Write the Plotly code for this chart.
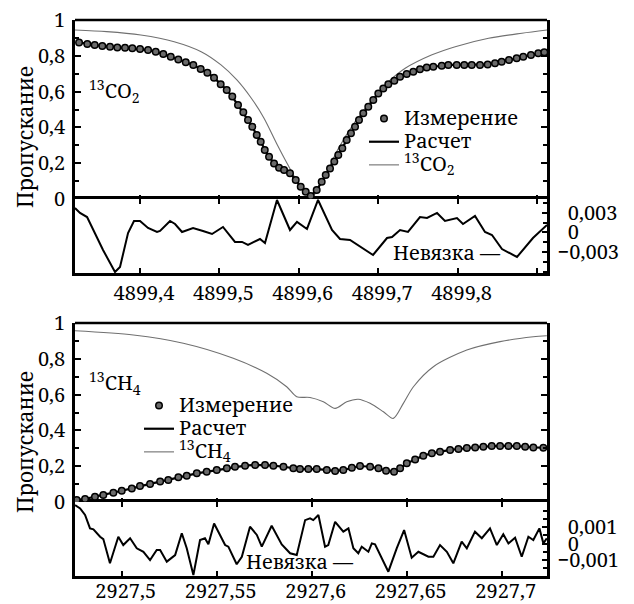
import plotly.graph_objects as go

# ---------------- 13CO2 band (upper figure) ----------------
co2_x = [4899.3232, 4899.3336, 4899.3429, 4899.3525, 4899.3622, 4899.3714, 4899.3811, 4899.3903,
         4899.4000, 4899.4101, 4899.4198, 4899.4293, 4899.4387, 4899.4482, 4899.4576, 4899.4671,
         4899.4764, 4899.4848, 4899.4932, 4899.5016, 4899.5092, 4899.5162, 4899.5234, 4899.5301,
         4899.5360, 4899.5414, 4899.5470, 4899.5520, 4899.5571, 4899.5625, 4899.5688, 4899.5751,
         4899.5814, 4899.5889, 4899.5961, 4899.6024, 4899.6087, 4899.6150, 4899.6225, 4899.6288,
         4899.6339, 4899.6393, 4899.6447, 4899.6497, 4899.6548, 4899.6603, 4899.6657, 4899.6708,
         4899.6758, 4899.6812, 4899.6875, 4899.6938, 4899.7001, 4899.7064, 4899.7127, 4899.7203,
         4899.7275, 4899.7359, 4899.7442, 4899.7526, 4899.7611, 4899.7694, 4899.7800, 4899.7883,
         4899.7989, 4899.8084, 4899.8178, 4899.8282, 4899.8379, 4899.8471, 4899.8555, 4899.8647,
         4899.8744, 4899.8827, 4899.8924, 4899.9016, 4899.9092]
co2_meas = [0.875, 0.866, 0.860, 0.855, 0.851, 0.847, 0.845, 0.842, 0.838, 0.832, 0.823, 0.810,
            0.795, 0.780, 0.764, 0.749, 0.726, 0.706, 0.678, 0.641, 0.609, 0.572, 0.525, 0.484,
            0.441, 0.404, 0.358, 0.320, 0.274, 0.236, 0.199, 0.175, 0.162, 0.144, 0.106, 0.069,
            0.041, 0.017, 0.050, 0.097, 0.134, 0.171, 0.209, 0.246, 0.283, 0.330, 0.367, 0.404,
            0.441, 0.479, 0.516, 0.553, 0.590, 0.618, 0.641, 0.661, 0.683, 0.698, 0.711, 0.725,
            0.734, 0.739, 0.745, 0.749, 0.749, 0.749, 0.749, 0.749, 0.752, 0.758, 0.767, 0.777,
            0.786, 0.795, 0.804, 0.814, 0.820]
co2_calc = co2_meas  # fitted spectrum coincides with the measurement at this scale

co2_model_x = [4899.318, 4899.358, 4899.401, 4899.443, 4899.477, 4899.502, 4899.522, 4899.540,
               4899.556, 4899.573, 4899.585, 4899.594, 4899.607, 4899.616, 4899.633, 4899.650,
               4899.671, 4899.692, 4899.713, 4899.734, 4899.767, 4899.797, 4899.839, 4899.881,
               4899.913]
co2_model = [0.944, 0.935, 0.916, 0.879, 0.823, 0.749, 0.665, 0.564, 0.453, 0.302, 0.201, 0.128,
             0.050, 0.008, 0.130, 0.283, 0.432, 0.553, 0.655, 0.730, 0.804, 0.851, 0.898, 0.926,
             0.944]

co2_res_x = [4899.318, 4899.3244, 4899.3333, 4899.3534, 4899.3685, 4899.3748, 4899.3849, 4899.3924,
             4899.4000, 4899.4101, 4899.4214, 4899.4252, 4899.4378, 4899.4441, 4899.4529, 4899.4668,
             4899.4793, 4899.4907, 4899.5045, 4899.5196, 4899.5285, 4899.5360, 4899.5511, 4899.5574,
             4899.5725, 4899.5889, 4899.5977, 4899.6103, 4899.6242, 4899.6418, 4899.6519, 4899.6645,
             4899.6935, 4899.7111, 4899.7174, 4899.7275, 4899.7375, 4899.7526, 4899.7615, 4899.7741,
             4899.7841, 4899.7992, 4899.8068, 4899.8219, 4899.8345, 4899.8433, 4899.8559, 4899.8748,
             4899.8949, 4899.9063, 4899.9126]
co2_res = [0.00377, 0.00300, 0.00238, -0.00269, -0.00608, -0.00531, -0.00008, 0.00177, 0.00177,
           0.00069, 0.00008, 0.00023, 0.00177, 0.00131, 0.00008, 0.00069, 0.00023, -0.00023,
           0.00085, -0.00146, -0.00146, -0.00192, -0.00100, -0.00162, 0.00500, 0.00038, 0.00162,
           0.00054, 0.00500, 0.00038, -0.00100, -0.00115, -0.00346, -0.00085, -0.00069, 0.00038,
           0.00008, 0.00238, 0.00223, 0.00300, 0.00177, 0.00223, 0.00131, 0.00254, 0.00008,
           -0.00038, -0.00254, -0.00377, -0.00085, 0.00038, 0.00115]

co2_xticks = [4899.4, 4899.5, 4899.6, 4899.7, 4899.8]
co2_xlabels = ["4899,4", "4899,5", "4899,6", "4899,7", "4899,8"]
co2_xminor = [4899.9]
co2_res_ticks = [-0.003, 0.0, 0.003]
co2_res_labels = ["\u22120,003", "\u20020", "\u20020,003"]
co2_res_minor = [-0.006, -0.0045, -0.0015, 0.0015, 0.0045]

# ---------------- 13CH4 band (lower figure) ----------------
ch4_x = [2927.4763, 2927.4807, 2927.4859, 2927.4903, 2927.4956, 2927.5000, 2927.5053, 2927.5096,
         2927.5149, 2927.5202, 2927.5245, 2927.5298, 2927.5342, 2927.5395, 2927.5447, 2927.5500,
         2927.5553, 2927.5596, 2927.5649, 2927.5702, 2927.5754, 2927.5798, 2927.5851, 2927.5903,
         2927.5938, 2927.5982, 2927.6026, 2927.6079, 2927.6123, 2927.6166, 2927.6211, 2927.6254,
         2927.6307, 2927.6351, 2927.6391, 2927.6433, 2927.6465, 2927.6500, 2927.6544, 2927.6587,
         2927.6632, 2927.6675, 2927.6728, 2927.6772, 2927.6816, 2927.6860, 2927.6903, 2927.6947,
         2927.6991, 2927.7035, 2927.7079, 2927.7123, 2927.7166, 2927.7219]
ch4_meas = [0.011, 0.017, 0.030, 0.039, 0.052, 0.063, 0.076, 0.089, 0.101, 0.114, 0.123, 0.138,
            0.147, 0.160, 0.169, 0.179, 0.188, 0.197, 0.203, 0.207, 0.207, 0.203, 0.197, 0.188,
            0.184, 0.184, 0.184, 0.179, 0.173, 0.179, 0.192, 0.201, 0.197, 0.188, 0.175, 0.169,
            0.188, 0.216, 0.238, 0.259, 0.272, 0.281, 0.291, 0.296, 0.302, 0.305, 0.309, 0.313,
            0.313, 0.313, 0.313, 0.309, 0.305, 0.303]
ch4_calc = ch4_meas

ch4_model_x = [2927.4754, 2927.5061, 2927.5324, 2927.5587, 2927.5763, 2927.5868, 2927.5921,
               2927.5991, 2927.6061, 2927.6123, 2927.6184, 2927.6245, 2927.6307, 2927.6377,
               2927.6429, 2927.6482, 2927.6535, 2927.6640, 2927.6816, 2927.6991, 2927.7166,
               2927.7237]
ch4_model = [0.957, 0.933, 0.887, 0.803, 0.719, 0.644, 0.588, 0.584, 0.560, 0.523, 0.560, 0.574,
             0.551, 0.504, 0.467, 0.551, 0.644, 0.756, 0.849, 0.896, 0.923, 0.929]

ch4_res_x = [2927.4754, 2927.4781, 2927.4807, 2927.4833, 2927.4851, 2927.4886, 2927.4903, 2927.4938,
             2927.4982, 2927.5008, 2927.5044, 2927.5079, 2927.5114, 2927.5149, 2927.5184, 2927.5202,
             2927.5237, 2927.5281, 2927.5316, 2927.5342, 2927.5377, 2927.5412, 2927.5438, 2927.5456,
             2927.5486, 2927.5517, 2927.5544, 2927.5561, 2927.5605, 2927.5632, 2927.5675, 2927.5711,
             2927.5737, 2927.5789, 2927.5842, 2927.5886, 2927.5921, 2927.5965, 2927.5991, 2927.6008,
             2927.6035, 2927.6070, 2927.6087, 2927.6123, 2927.6166, 2927.6193, 2927.6219, 2927.6245,
             2927.6263, 2927.6298, 2927.6316, 2927.6333, 2927.6368, 2927.6403, 2927.6447, 2927.6486,
             2927.6526, 2927.6561, 2927.6614, 2927.6640, 2927.6675, 2927.6711, 2927.6745, 2927.6789,
             2927.6816, 2927.6859, 2927.6895, 2927.6938, 2927.6974, 2927.7008, 2927.7035, 2927.7070,
             2927.7105, 2927.7140, 2927.7166, 2927.7198, 2927.7219, 2927.7237]
ch4_res = [0.00233, 0.00213, 0.00173, 0.00092, 0.00086, 0.00041, 0.00027, -0.00120, 0.00041,
           -0.00009, 0.00032, -0.00029, -0.00050, -0.00100, -0.00039, -0.00039, -0.00110, -0.00070,
           0.00062, -0.00029, -0.00191, 0.00021, 0.00032, -0.00005, 0.00122, 0.00056, -0.00009,
           -0.00019, -0.00126, -0.00080, 0.00102, 0.00052, -0.00019, 0.00108, -0.00005, -0.00059,
           -0.00070, 0.00142, 0.00153, 0.00142, 0.00173, -0.00019, -0.00009, 0.00132, 0.00072,
           0.00092, -0.00029, -0.00059, -0.00019, -0.00050, 0.00001, -0.00005, -0.00090, -0.00171,
           -0.00029, 0.00082, -0.00086, -0.00050, -0.00080, -0.00080, -0.00009, -0.00050, -0.00120,
           0.00011, -0.00029, 0.00072, 0.00032, 0.00092, -0.00009, 0.00056, 0.00001, 0.00035,
           -0.00080, 0.00041, 0.00021, 0.00092, 0.00001, 0.00032]

ch4_xticks = [2927.5, 2927.55, 2927.6, 2927.65, 2927.7]
ch4_xlabels = ["2927,5", "2927,55", "2927,6", "2927,65", "2927,7"]
ch4_res_ticks = [-0.001, 0.0, 0.001]
ch4_res_labels = ["\u22120,001", "\u20020", "\u20020,001"]
ch4_res_minor = [-0.0015, -0.0005, 0.0005, 0.0015, 0.002]

# transmission scale shared by both figures
t_ticks = [0, 0.2, 0.4, 0.6, 0.8, 1.0]
t_labels = ["0", "0,2", "0,4", "0,6", "0,8", "1"]
t_minor = [0.1, 0.3, 0.5, 0.7, 0.9]

FONT = "Noto Serif, Liberation Serif, serif"
FS = 20
W, H = 634, 604


def px(v):
    return v / W


def py(v):
    return 1 - v / H


x_dom = [px(75), px(547)]
top_t_dom = [py(199), py(20)]
top_r_dom = [py(273), py(199)]
bot_t_dom = [py(502), py(323)]
bot_r_dom = [py(576), py(502)]


def big(s):
    return '<span style="font-size:20px">' + s + "</span>"


fig = go.Figure()

marker_style = dict(symbol="circle", size=6.5, color="#6a6a6a", line=dict(color="black", width=1.5))
model_line = dict(color="#707070", width=1.1, shape="spline", smoothing=0.8)

# upper figure
fig.add_trace(go.Scatter(x=co2_model_x, y=co2_model, mode="lines", xaxis="x2", yaxis="y",
                         line=model_line, name=big("<sup>13</sup>CO<sub>2</sub>"),
                         legend="legend", legendrank=3))
fig.add_trace(go.Scatter(x=co2_x, y=co2_calc, mode="lines", xaxis="x2", yaxis="y",
                         line=dict(color="black", width=2.2), name=big("Расчет"),
                         legend="legend", legendrank=2))
fig.add_trace(go.Scatter(x=co2_x, y=co2_meas, mode="markers", xaxis="x2", yaxis="y",
                         marker=marker_style, name=big("Измерение"), legend="legend", legendrank=1))
fig.add_trace(go.Scatter(x=co2_res_x, y=co2_res, mode="lines", xaxis="x", yaxis="y2",
                         line=dict(color="black", width=2), showlegend=False))

# lower figure
fig.add_trace(go.Scatter(x=ch4_model_x, y=ch4_model, mode="lines", xaxis="x4", yaxis="y3",
                         line=model_line, name=big("<sup>13</sup>CH<sub>4</sub>"),
                         legend="legend2", legendrank=3))
fig.add_trace(go.Scatter(x=ch4_x, y=ch4_calc, mode="lines", xaxis="x4", yaxis="y3",
                         line=dict(color="black", width=2.2), name=big("Расчет"),
                         legend="legend2", legendrank=2))
fig.add_trace(go.Scatter(x=ch4_x, y=ch4_meas, mode="markers", xaxis="x4", yaxis="y3",
                         marker=marker_style, name=big("Измерение"), legend="legend2",
                         legendrank=1))
fig.add_trace(go.Scatter(x=ch4_res_x, y=ch4_res, mode="lines", xaxis="x3", yaxis="y4",
                         line=dict(color="black", width=2), showlegend=False))

axis_common = dict(linecolor="black", linewidth=2.5, showgrid=False, zeroline=False,
                   automargin=False, ticks="inside", tickcolor="black", tickwidth=1.5,
                   tickfont=dict(family=FONT, size=FS, color="black"))
minor_common = dict(ticks="inside", tickcolor="black", tickwidth=1.5, showgrid=False)

fig.update_layout(
    # residual strips carry the wavenumber labels; their ticks repeat on the separator line
    xaxis=dict(**axis_common, showline=True, domain=x_dom, anchor="y2",
               range=[4899.3181, 4899.9126], tickvals=co2_xticks, ticktext=co2_xlabels,
               ticklen=5, mirror="ticks", ticklabelshift=4, ticklabelstandoff=0,
               minor=dict(**minor_common, tickvals=co2_xminor, ticklen=5)),
    xaxis2=dict(**axis_common, showline=False, domain=x_dom, anchor="y", matches="x",
                tickvals=co2_xticks, showticklabels=False, ticklen=4,
                minor=dict(**minor_common, tickvals=co2_xminor, ticklen=4)),
    xaxis3=dict(**axis_common, showline=True, domain=x_dom, anchor="y4",
                range=[2927.4754, 2927.7238], tickvals=ch4_xticks, ticktext=ch4_xlabels,
                ticklen=5, mirror="ticks", ticklabelshift=4, ticklabelstandoff=-5),
    xaxis4=dict(**axis_common, showline=False, domain=x_dom, anchor="y3", matches="x3",
                tickvals=ch4_xticks, showticklabels=False, ticklen=4),
    yaxis=dict(**axis_common, showline=True, domain=top_t_dom, anchor="x2", range=[0, 1],
               tickvals=t_ticks, ticktext=t_labels, ticklen=6, mirror="ticks",
               ticklabelstandoff=3, minor=dict(**minor_common, tickvals=t_minor, ticklen=4)),
    yaxis2=dict(**axis_common, showline=True, domain=top_r_dom, anchor="x", side="right",
                range=[-0.00623, 0.00515], tickvals=co2_res_ticks, ticktext=co2_res_labels,
                ticklen=5, mirror=True, ticklabelstandoff=4,
                minor=dict(**minor_common, tickvals=co2_res_minor, ticklen=4)),
    yaxis3=dict(**axis_common, showline=True, domain=bot_t_dom, anchor="x4", range=[0, 1],
                tickvals=t_ticks, ticktext=t_labels, ticklen=6, mirror="ticks",
                ticklabelstandoff=3, minor=dict(**minor_common, tickvals=t_minor, ticklen=4)),
    yaxis4=dict(**axis_common, showline=True, domain=bot_r_dom, anchor="x3", side="right",
                range=[-0.00197, 0.00252], tickvals=ch4_res_ticks, ticktext=ch4_res_labels,
                ticklen=5, mirror=True, ticklabelstandoff=4,
                minor=dict(**minor_common, tickvals=ch4_res_minor, ticklen=4)),
)

# top edge of each transmission frame
for xr, yr in (("x2", "y"), ("x4", "y3")):
    fig.add_shape(type="line", xref=xr + " domain", yref=yr + " domain", x0=0, x1=1, y0=1, y1=1,
                  line=dict(color="black", width=2.5))

legend_common = dict(bgcolor="rgba(0,0,0,0)", borderwidth=0, xanchor="left", yanchor="top",
                     font=dict(family=FONT, size=15.5, color="black"), tracegroupgap=0,
                     itemwidth=30)
fig.update_layout(
    legend=dict(**legend_common, x=px(364), y=py(102)),
    legend2=dict(**legend_common, x=px(139), y=py(389)),
)

ann_font = dict(family=FONT, size=FS, color="black")
annotations = [
    dict(text="Пропускание", x=px(25), y=py(137), textangle=-90, font_size=21),
    dict(text="Пропускание", x=px(25), y=py(442), textangle=-90, font_size=21),
    dict(text="<sup>13</sup>CO<sub>2</sub>", x=px(87), y=py(91), xanchor="left"),
    dict(text="<sup>13</sup>CH<sub>4</sub>", x=px(87), y=py(383), xanchor="left"),
    dict(text="Невязка —", x=px(391), y=py(252), xanchor="left"),
    dict(text="Невязка —", x=px(244), y=py(561), xanchor="left"),
]
for a in annotations:
    a.setdefault("xanchor", "center")
    fs = a.pop("font_size", FS)
    fig.add_annotation(xref="paper", yref="paper", showarrow=False, yanchor="middle",
                       font=dict(ann_font, size=fs), **a)

fig.update_layout(width=W, height=H, autosize=False, margin=dict(l=0, r=0, t=0, b=0),
                  paper_bgcolor="white", plot_bgcolor="white", showlegend=True)

fig.write_html("out.html")
